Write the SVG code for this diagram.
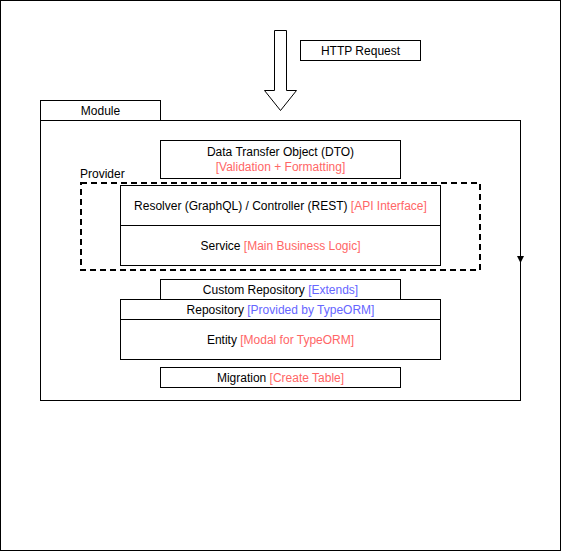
<svg xmlns="http://www.w3.org/2000/svg" width="562" height="552" viewBox="0 0 562 552">
<style>
text{font-family:"Liberation Sans",Arial,sans-serif;font-size:12px;fill:#000;}
.c{text-anchor:middle;dominant-baseline:central;}
.r{fill:#FF6666;}
.b{fill:#6666FF;}
.box{fill:#fff;stroke:#000;stroke-width:1;}
</style>
<rect x="0.5" y="0.5" width="560" height="550" fill="#fff" stroke="#000" stroke-width="1"/>
<g id="module">
<rect class="box" x="40.5" y="100.5" width="120" height="20"/>
<rect class="box" x="40.5" y="120.5" width="480" height="280"/>
<text class="c" x="100.5" y="110.5">Module</text>
</g>
<g id="connectors">
<path d="M274.5 30.5 H286.5 V90.5 H296.5 L280.5 110.5 L264.5 90.5 H274.5 Z" fill="#fff" stroke="#000" stroke-width="1"/>
<path d="M517 256 L524 256 L520.5 263 Z" fill="#000"/>
</g>
<g id="http">
<rect class="box" x="300.5" y="40.5" width="120" height="20"/>
<text class="c" x="360.5" y="50.5">HTTP Request</text>
</g>
<g id="dto">
<rect class="box" x="160.5" y="140.5" width="240" height="38"/>
<text class="c" x="280.5" y="152">Data Transfer Object (DTO)</text>
<text class="c r" x="280.5" y="167">[Validation + Formatting]</text>
</g>
<g id="provider">
<rect x="81" y="183" width="399" height="87" fill="none" stroke="#000" stroke-width="2" stroke-dasharray="6 4"/>
<text x="80" y="178">Provider</text>
</g>
<g id="resolver">
<rect class="box" x="120.5" y="185.5" width="320" height="40"/>
<text class="c" x="280.5" y="205.5">Resolver (GraphQL) / Controller (REST) <tspan class="r">[API Interface]</tspan></text>
</g>
<g id="service">
<rect class="box" x="120.5" y="225.5" width="320" height="40"/>
<text class="c" x="280.5" y="245.5">Service <tspan class="r">[Main Business Logic]</tspan></text>
</g>
<g id="custom-repository">
<rect class="box" x="160.5" y="279.5" width="240" height="20"/>
<text class="c" x="280.5" y="289.5">Custom Repository <tspan class="b">[Extends]</tspan></text>
</g>
<g id="repository">
<rect class="box" x="120.5" y="299.5" width="320" height="20"/>
<text class="c" x="280.5" y="309.5">Repository <tspan class="b">[Provided by TypeORM]</tspan></text>
</g>
<g id="entity">
<rect class="box" x="120.5" y="319.5" width="320" height="40"/>
<text class="c" x="280.5" y="339.5">Entity <tspan class="r">[Modal for TypeORM]</tspan></text>
</g>
<g id="migration">
<rect class="box" x="160.5" y="367.5" width="240" height="20"/>
<text class="c" x="280.5" y="377.5">Migration <tspan class="r">[Create Table]</tspan></text>
</g>
</svg>
